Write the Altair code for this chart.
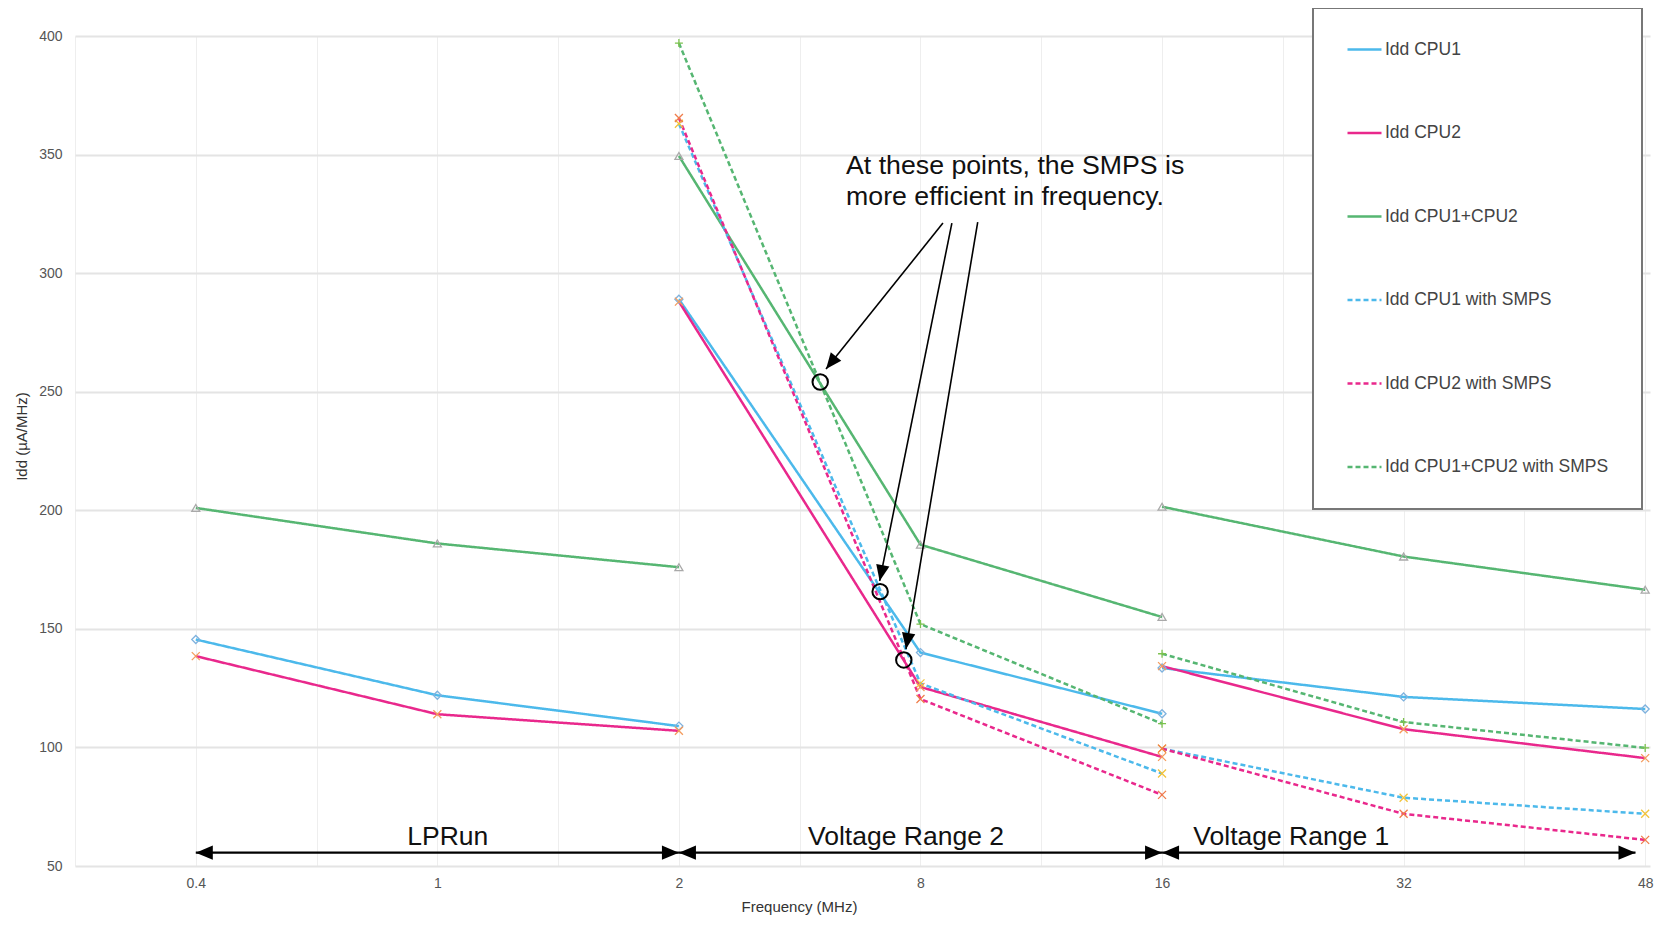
import json, math
import altair as alt
import pandas as pd

# ---------------- data ----------------
freq_labels = ["0.4", "1", "2", "8", "16", "32", "48"]
series = ["Idd CPU1", "Idd CPU2", "Idd CPU1+CPU2",
          "Idd CPU1 with SMPS", "Idd CPU2 with SMPS", "Idd CPU1+CPU2 with SMPS"]

# x positions are category indexes of freq_labels
lprun_idx = [0, 1, 2]
vr2_idx = [2, 3, 4]
vr1_idx = [4, 5, 6]

lprun_cpu1 = [145.5, 122, 109]
lprun_cpu2 = [138.5, 114, 107]
lprun_cpu12 = [201, 186, 176]

vr2_cpu1 = [289, 140, 114.2]
vr2_cpu2 = [288, 125.5, 96]
vr2_cpu12 = [349.4, 185.5, 155]
vr2_cpu1_smps = [363, 127, 89]
vr2_cpu2_smps = [365.4, 120.4, 80]
vr2_cpu12_smps = [397, 152, 110]

vr1_cpu1 = [133.5, 121.3, 116.2]
vr1_cpu2 = [134.3, 107.7, 95.5]
vr1_cpu12 = [201.5, 180.5, 166.5]
vr1_cpu1_smps = [99.5, 78.8, 72]
vr1_cpu2_smps = [99.5, 72, 61]
vr1_cpu12_smps = [139.5, 110.7, 99.8]

# annotations (data units: category index, µA/MHz)
callout_text = "At these points, the SMPS is\nmore efficient in frequency."
callout_idx = [2.692]
callout_val = [341.8]
circle_idx = [2.585, 2.833, 2.931]
circle_val = [254.1, 165.7, 136.9]
arrow_start_idx = [3.093, 3.130, 3.237]
arrow_start_val = [321.1, 321.1, 321.5]
arrow_end_idx = [2.609, 2.831, 2.940]
arrow_end_val = [259.6, 170.2, 141.5]

range_labels = ["LPRun", "Voltage Range 2", "Voltage Range 1"]
range_start = [0, 2, 4]
range_end = [2, 4, 5.96]
range_label_idx = [1.043, 2.94, 4.535]
range_arrow_val = 55.6
range_label_val = 58.8

# ---------------- styles ----------------
line_colors = ["#4cb9eb", "#e9288c", "#56b672", "#4cb9eb", "#e9288c", "#56b672"]
line_dashes = [[1, 0], [1, 0], [1, 0], [5, 3], [5, 3], [5, 3]]
line_widths = [2.5, 2.5, 2.5, 2.2, 2.2, 2.2]
marker_colors = ["#7fb2de", "#f49b5c", "#a9a9a9", "#f2c33a", "#ef7d4a", "#7cc24e"]
XPATH = "M-1,-1L1,1M-1,1L1,-1"
marker_shapes = ["diamond", XPATH, "triangle-up", XPATH, XPATH, "M-1,0L1,0M0,-1L0,1"]
HEAD = "M0,0L-0.42,1L0.42,1Z"
FONT = "Liberation Sans"

W, H = 1575, 830
X_DOMAIN = [-0.5, 6.02]
Y_DOMAIN = [50, 400]
PX_X = W / (X_DOMAIN[1] - X_DOMAIN[0])
PX_Y = H / (Y_DOMAIN[1] - Y_DOMAIN[0])


def head_angle(sx, sy, ex, ey):
    dx = (ex - sx) * PX_X
    dy = -(ey - sy) * PX_Y
    return (math.degrees(math.atan2(dx, -dy)) + 360) % 360


# ---------------- tables ----------------
segments = [
    ("LPRun", lprun_idx, [lprun_cpu1, lprun_cpu2, lprun_cpu12, None, None, None]),
    ("VR2", vr2_idx, [vr2_cpu1, vr2_cpu2, vr2_cpu12, vr2_cpu1_smps, vr2_cpu2_smps, vr2_cpu12_smps]),
    ("VR1", vr1_idx, [vr1_cpu1, vr1_cpu2, vr1_cpu12, vr1_cpu1_smps, vr1_cpu2_smps, vr1_cpu12_smps]),
]
rows = []
for seg, idxs, vals in segments:
    for s, v in zip(series, vals):
        if v is None:
            continue
        for i, y in zip(idxs, v):
            rows.append({"segment": seg, "series": s, "idx": i, "value": y})
df = pd.DataFrame(rows)

circ_df = pd.DataFrame({"idx": circle_idx, "value": circle_val})
arrow_df = pd.DataFrame({"idx": arrow_start_idx, "value": arrow_start_val,
                         "idx2": arrow_end_idx, "value2": arrow_end_val})
head_rows = []
for sx, sy, ex, ey in zip(arrow_start_idx, arrow_start_val, arrow_end_idx, arrow_end_val):
    head_rows.append({"idx": ex, "value": ey, "angle": head_angle(sx, sy, ex, ey), "kind": "callout"})
for a, b in zip(range_start, range_end):
    head_rows.append({"idx": a, "value": range_arrow_val,
                      "angle": head_angle(b, range_arrow_val, a, range_arrow_val), "kind": "range"})
    head_rows.append({"idx": b, "value": range_arrow_val,
                      "angle": head_angle(a, range_arrow_val, b, range_arrow_val), "kind": "range"})
head_df = pd.DataFrame(head_rows)
range_df = pd.DataFrame({"idx": range_start, "idx2": range_end,
                         "value": [range_arrow_val] * len(range_start)})
range_lab_df = pd.DataFrame({"idx": range_label_idx, "value": [range_label_val] * 3,
                             "label": range_labels})
callout_df = pd.DataFrame({"idx": callout_idx, "value": callout_val, "label": [callout_text]})

# ---------------- encodings ----------------
grid_vals = [-0.5 + 0.5 * k for k in range(14)]
label_expr = ("(datum.value >= 0 && datum.value % 1 == 0) ? "
              + json.dumps(freq_labels) + "[datum.value] : ''")

x_axis = alt.Axis(values=grid_vals, labelExpr=label_expr, title="Frequency (MHz)",
                  grid=True, gridColor="#eeeeee", gridWidth=1, domain=False, ticks=False,
                  tickSize=0, labelPadding=10, labelFontSize=14, labelColor="#555555",
                  labelFont=FONT, labelOverlap=False, labelFlush=False,
                  titleFont=FONT, titleFontSize=15, titleFontWeight="normal",
                  titleColor="#333333", titleX=724, titleY=45, titleAnchor="start",
                  titleAlign="center", titleBaseline="alphabetic")
y_axis = alt.Axis(values=[50, 100, 150, 200, 250, 300, 350, 400], title="Idd (µA/MHz)",
                  grid=True, gridColor="#e4e4e4", gridWidth=2, domain=False, ticks=False,
                  tickSize=0, labelPadding=13, labelFontSize=14, labelColor="#555555",
                  labelFont=FONT, titleFont=FONT, titleFontSize=15, titleFontWeight="normal",
                  titleColor="#333333", titleX=-54, titleY=400, titleAnchor="start",
                  titleAlign="center", titleBaseline="middle", titleAngle=270)


def X(field="idx"):
    return alt.X(f"{field}:Q", scale=alt.Scale(domain=X_DOMAIN, nice=False, zero=False),
                 axis=x_axis)


def Y(field="value"):
    return alt.Y(f"{field}:Q", scale=alt.Scale(domain=Y_DOMAIN, nice=False, zero=False),
                 axis=y_axis)


legend = alt.Legend(title=None, orient="none", legendX=1238, legendY=-28,
                    symbolType="stroke", symbolSize=1156, symbolStrokeWidth=2.5,
                    labelFontSize=17.5, labelFont=FONT, labelColor="#444444",
                    labelOffset=2, labelLimit=400, padding=33, rowPadding=65.5,
                    clipHeight=17, fillColor="white", strokeColor="#777777")

lines = alt.Chart(df).mark_line().encode(
    x=X(), y=Y(),
    stroke=alt.Stroke("series:N", scale=alt.Scale(domain=series, range=line_colors),
                      legend=legend),
    strokeDash=alt.StrokeDash("series:N", scale=alt.Scale(domain=series, range=line_dashes),
                              legend=legend),
    strokeWidth=alt.StrokeWidth("series:N", scale=alt.Scale(domain=series, range=line_widths),
                                legend=None),
    detail="segment:N",
    order="idx:Q",
)

marker_layers = []
for s, shp, col in zip(series, marker_shapes, marker_colors):
    marker_layers.append(
        alt.Chart(df).transform_filter(alt.datum.series == s)
        .mark_point(shape=shp, filled=False, stroke=col, strokeWidth=1.3, opacity=1, size=64)
        .encode(x=X(), y=Y())
    )

circles = alt.Chart(circ_df).mark_point(shape="circle", filled=False, size=238,
                                        stroke="black", strokeWidth=2, opacity=1).encode(
    x=X(), y=Y())

arrows = alt.Chart(arrow_df).mark_rule(color="black", strokeWidth=1.6).encode(
    x=X(), y=Y(), x2="idx2:Q", y2="value2:Q")

ranges = alt.Chart(range_df).mark_rule(color="black", strokeWidth=2.2).encode(
    x=X(), y=Y(), x2="idx2:Q")

heads = alt.Chart(head_df).mark_point(shape=HEAD, filled=True, color="black",
                                      opacity=1, strokeWidth=0).encode(
    x=X(), y=Y(),
    angle=alt.Angle("angle:Q", scale=None),
    size=alt.Size("kind:N", scale=alt.Scale(domain=["callout", "range"], range=[1024, 1156]),
                  legend=None),
)

range_text = alt.Chart(range_lab_df).mark_text(font=FONT, fontSize=26.5, color="#111111",
                                               align="center", baseline="alphabetic").encode(
    x=X(), y=Y(), text="label:N")

callout = alt.Chart(callout_df).mark_text(font=FONT, fontSize=26.7, color="#111111",
                                          align="left", baseline="alphabetic",
                                          lineBreak="\n", lineHeight=31).encode(
    x=X(), y=Y(), text="label:N")

chart = alt.layer(lines, *marker_layers, circles, arrows, heads, ranges, range_text, callout).properties(
    width=W, height=H,
    autosize=alt.AutoSizeParams(type="none"),
    padding={"left": 67, "top": 28, "right": 5, "bottom": 50},
).configure_view(stroke=None).configure_legend(strokeWidth=2)

chart.save("out.html", embed_options={"renderer": "svg", "actions": False})
